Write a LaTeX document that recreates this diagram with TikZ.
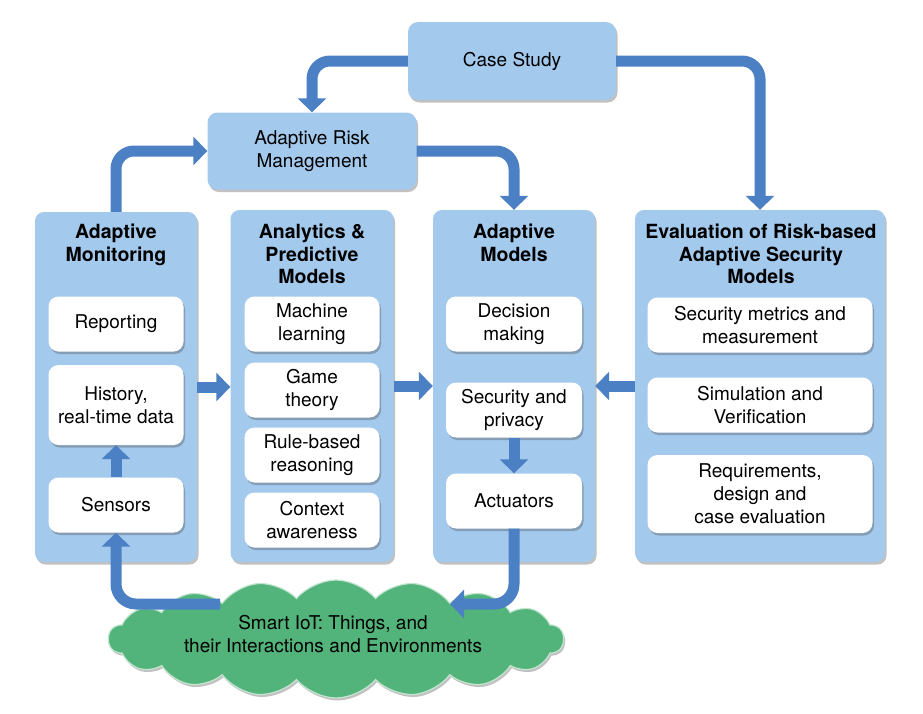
\documentclass[tikz,border=0pt]{standalone}
\usepackage{fontspec}
\setmainfont{TeX Gyre Heros}
\usetikzlibrary{shapes.symbols,shadows,arrows.meta}
\definecolor{boxblue}{RGB}{163,201,237}
\definecolor{arrblue}{RGB}{76,128,197}
\definecolor{cloudgreen}{RGB}{82,180,122}
\begin{document}
\begin{tikzpicture}[x=1pt,y=-1pt,
  shad/.style={drop shadow={shadow xshift=1.5pt,shadow yshift=-2.5pt,opacity=0.35,fill=black!70}},
  colbox/.style={fill=boxblue, rounded corners=9pt, shad, inner sep=0pt},
  topbox/.style={fill=boxblue, rounded corners=10pt, shad, align=center, inner sep=0pt,
    font=\fontsize{19}{23}\selectfont},
  item/.style={fill=white, rounded corners=10pt, shad, align=center, inner sep=0pt,
    font=\fontsize{19}{23}\selectfont},
  ttl/.style={font=\bfseries\fontsize{19.5}{22.5}\selectfont, align=center, anchor=north, inner sep=0pt},
  arr/.style={draw=arrblue, line width=11pt, -{Triangle[width=28pt,length=14pt]}}
]
\useasboundingbox (0,0) rectangle (923,713);

% columns
\node[colbox, minimum width=162pt, minimum height=350pt] (col1) at (116,387) {};
\node[colbox, minimum width=163pt, minimum height=352pt] (col2) at (312,386) {};
\node[colbox, minimum width=162pt, minimum height=352pt] (col3) at (514,386) {};
\node[colbox, minimum width=250pt, minimum height=352pt] (col4) at (760,386) {};

% titles
\node[ttl] (t1) at (116,224) {Adaptive\\Monitoring};
\node[ttl] (t2) at (312,224) {Analytics \&\\Predictive\\Models};
\node[ttl] (t3) at (514,224) {Adaptive\\Models};
\node[ttl] (t4) at (761,224) {Evaluation of Risk-based\\Adaptive Security\\Models};

% top boxes
\node[topbox, minimum width=208pt, minimum height=78pt] (case) at (512,61) {Case Study};
\node[topbox, minimum width=209pt, minimum height=77pt] (arm) at (312,151) {Adaptive Risk\\Management};

% items column 1
\node[item, minimum width=135pt, minimum height=55pt] (rep) at (116,324) {Reporting};
\node[item, minimum width=135pt, minimum height=80pt] (hist) at (116,405) {History,\\real-time data};
\node[item, minimum width=135pt, minimum height=55pt] (sens) at (116,505) {Sensors};
% items column 2
\node[item, minimum width=135pt, minimum height=55pt] (ml) at (312,324) {Machine\\learning};
\node[item, minimum width=135pt, minimum height=55pt] (game) at (312,390) {Game\\theory};
\node[item, minimum width=135pt, minimum height=55pt] (rule) at (312,455) {Rule-based\\reasoning};
\node[item, minimum width=135pt, minimum height=55pt] (ctx) at (312,520) {Context\\awareness};
% items column 3
\node[item, minimum width=136pt, minimum height=55pt] (dec) at (514,324) {Decision\\making};
\node[item, minimum width=136pt, minimum height=55pt] (sec) at (514,410) {Security and\\privacy};
\node[item, minimum width=136pt, minimum height=55pt] (act) at (514,501) {Actuators};
% items column 4
\node[item, minimum width=225pt, minimum height=55pt] (met) at (760,325) {Security metrics and\\measurement};
\node[item, minimum width=225pt, minimum height=55pt] (sim) at (760,405) {Simulation and\\Verification};
\node[item, minimum width=225pt, minimum height=78pt] (req) at (760,494) {Requirements,\\design and\\case evaluation};

% cloud
\node[cloud, cloud puffs=18, cloud puff arc=100, aspect=4, fill=cloudgreen,
  draw=white!65!cloudgreen, line width=1.2pt, shad,
  minimum width=455pt, minimum height=118pt] (iot) at (336,639) {};
\node[align=center, font=\fontsize{19}{23}\selectfont, inner sep=0pt] (iottext) at (333,634)
  {Smart IoT: Things, and\\their Interactions and Environments};

% arrows
\draw[arr, rounded corners=18pt] (case.west) -| (arm.north);
\draw[arr, rounded corners=18pt] (case.east) -| (col4.north);
\draw[arr, rounded corners=18pt] (arm.east) -| (col3.north);
\draw[arr, rounded corners=18pt] (col1.north) |- (arm.west);
\draw[arr] (col1.east) -- (col1.east -| col2.west);
\draw[arr] (col2.east) -- (col2.east -| col3.west);
\draw[arr] (col4.west) -- (col4.west -| col3.east);
\draw[arr] (sens.north) -- (hist.south);
\draw[arr] (sec.south) -- (act.north);
\coordinate (cin) at (450,604);
\coordinate (cout) at (220,604);
\draw[arr, rounded corners=20pt] (act.south) |- (cin);
\draw[arr, rounded corners=20pt] (cout) -| (sens.south);
\end{tikzpicture}
\end{document}
